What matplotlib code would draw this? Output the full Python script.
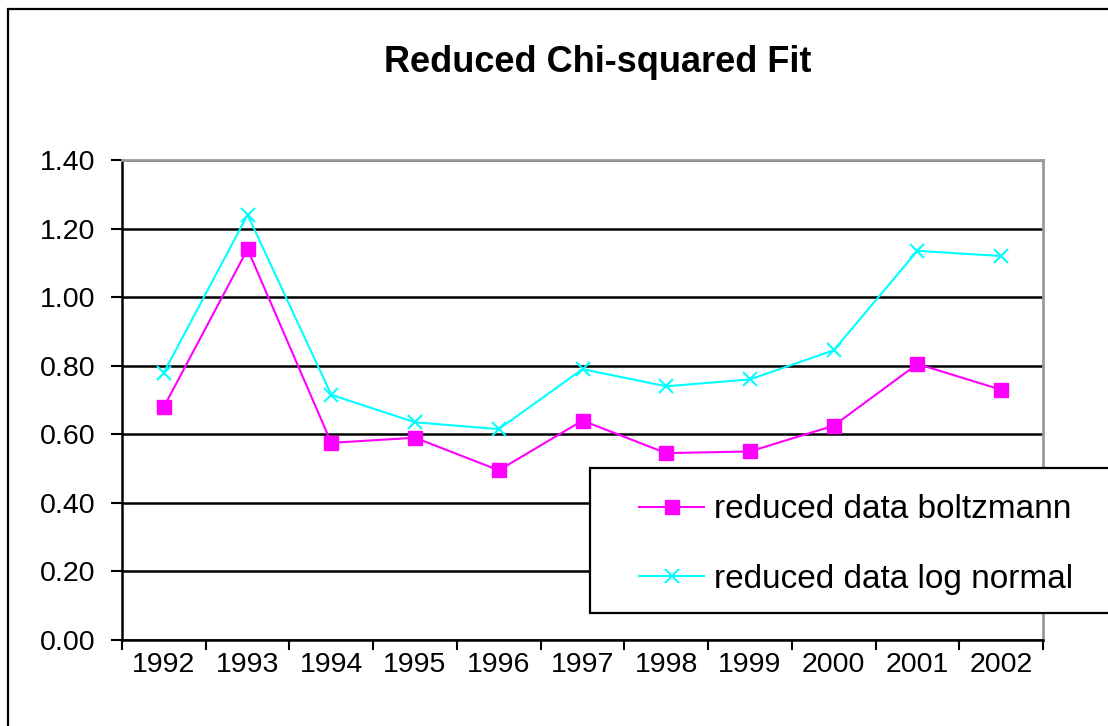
#!/usr/bin/env python

import numpy as np
from matplotlib import pyplot as plt
from matplotlib.patches import Rectangle

plt.rcParams['font.family'] = ['Liberation Sans', 'DejaVu Sans']

years = ['1992', '1993', '1994', '1995', '1996', '1997',
         '1998', '1999', '2000', '2001', '2002']
boltzmann = [0.68, 1.14, 0.575, 0.59, 0.495, 0.64, 0.545, 0.55, 0.625, 0.805, 0.73]
log_normal = [0.78, 1.24, 0.715, 0.635, 0.615, 0.79, 0.74, 0.76, 0.845, 1.135, 1.12]
y_ticks = [0.0, 0.2, 0.4, 0.6, 0.8, 1.0, 1.2, 1.4]

W, H = 1108, 726
fig = plt.figure(figsize=(W / 100, H / 100), dpi=100)

# outer chart frame (cut off at right and bottom like the original)
fig.patches.append(Rectangle((8 / W, -0.1), 1.2, 1 - 9 / H + 0.1,
                             transform=fig.transFigure, fill=False,
                             edgecolor='black', linewidth=1.6, zorder=0))

ax = fig.add_axes([122 / W, (H - 640) / H, 921 / W, 480 / H])
x = np.arange(len(years))

ax.plot(x, boltzmann, color='#ff00ff', marker='s', markersize=10,
        linewidth=1.5, label='reduced data boltzmann', zorder=3)
ax.plot(x, log_normal, color='#00ffff', marker='x', markersize=10,
        markeredgewidth=1.5, linewidth=1.5, label='reduced data log normal', zorder=3)

ax.set_xlim(-0.5, len(years) - 0.5)
ax.set_ylim(0, 1.4)
ax.set_yticks(y_ticks)
ax.set_yticklabels(['%.2f' % v for v in y_ticks], fontsize=20.5)
ax.yaxis.grid(True, color='black', linewidth=1.8)
ax.set_axisbelow(True)

ax.set_xticks(np.arange(-0.5, len(years), 1.0))
ax.set_xticklabels([])
ax.set_xticks(x, minor=True)
ax.set_xticklabels(years, minor=True, fontsize=20.5)
ax.tick_params(axis='x', which='major', direction='out', length=7, width=1.5)
ax.tick_params(axis='x', which='minor', length=0, pad=9)
ax.tick_params(axis='y', direction='out', length=8, width=1.5, pad=11)

for side in ['top', 'right']:
    ax.spines[side].set_color('#999999')
    ax.spines[side].set_linewidth(2)
for side in ['left', 'bottom']:
    ax.spines[side].set_color('black')
    ax.spines[side].set_linewidth(1.8)

fig.text(598 / W, 1 - 62 / H, 'Reduced Chi-squared Fit', ha='center', va='center',
         fontsize=26, fontweight='bold')

# legend box
fig.patches.append(Rectangle((590 / W, 1 - 613 / H), 0.6, 145 / H,
                             transform=fig.transFigure, facecolor='white',
                             edgecolor='black', linewidth=1.6, zorder=5))
leg = fig.legend(loc='upper left', bbox_to_anchor=(626 / W, 1 - 481 / H),
                 frameon=False, fontsize=24, handlelength=1.95, handletextpad=0.3,
                 labelspacing=1.15, borderaxespad=0)
leg.set_zorder(6)

fig.savefig('out.png', dpi=100)
